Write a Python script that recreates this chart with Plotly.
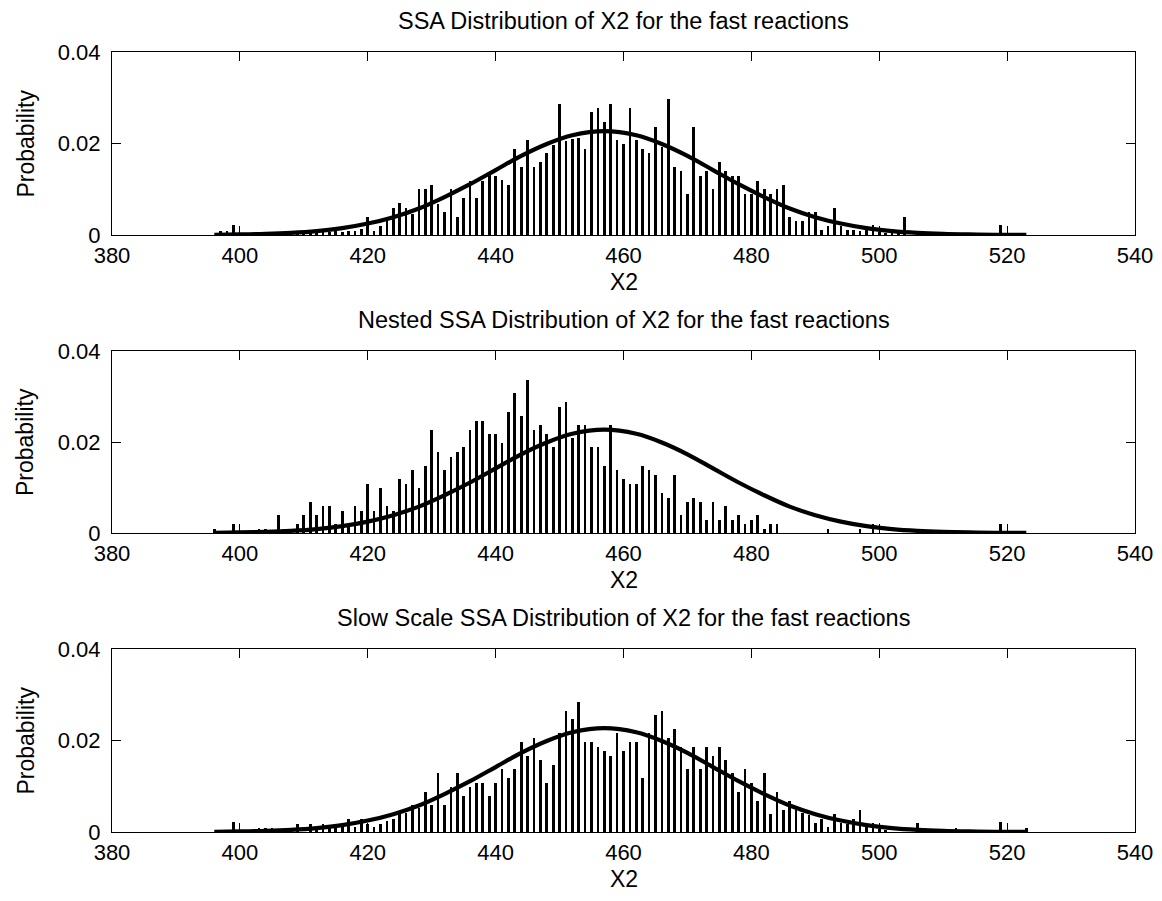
import plotly.graph_objects as go

# X2 copy-number bins (one bar per integer state)
x2_states = list(range(396, 525))

# Empirical probability of each X2 state, SSA run
ssa_prob = [
    0, 0.0008, 0.0008, 0.0022, 0, 0.0003, 0, 0.0003, 0, 0.0003,          # 396-405
    0.0003, 0, 0.0003, 0.0003, 0.0003, 0.0006, 0.0003, 0.0006, 0.0006, 0.0009,  # 406-415
    0.0006, 0.0009, 0.0009, 0.0013, 0.004, 0.0009, 0.002, 0.004, 0.006, 0.0069,  # 416-425
    0.006, 0.0045, 0.010, 0.010, 0.0109, 0.0068, 0.005, 0.010, 0.004, 0.008,     # 426-435
    0.0119, 0.008, 0.0119, 0.0138, 0.0129, 0.012, 0.0109, 0.0189, 0.0149, 0.0208,  # 436-445
    0.0149, 0.0159, 0.0179, 0.0197, 0.0287, 0.0205, 0.0209, 0.0213, 0.0189, 0.0268,  # 446-455
    0.0277, 0.0248, 0.0287, 0.0208, 0.0198, 0.0277, 0.0208, 0.0189, 0.0179, 0.0237,  # 456-465
    0.0193, 0.0297, 0.0149, 0.0139, 0.009, 0.0237, 0.0129, 0.0139, 0.010, 0.0159,    # 466-475
    0.0139, 0.0129, 0.0129, 0.009, 0.009, 0.0119, 0.010, 0.009, 0.010, 0.0109,       # 476-485
    0.004, 0.0031, 0.0031, 0.005, 0.005, 0.0011, 0.002, 0.006, 0.002, 0.0012,        # 486-495
    0.0011, 0.0009, 0.001, 0.0022, 0.0007, 0.0005, 0.0005, 0.0003, 0.004, 0,         # 496-505
    0.0003, 0, 0, 0.0006, 0.0006, 0, 0, 0, 0, 0,                                     # 506-515
    0, 0, 0, 0.0022, 0, 0, 0, 0, 0,                                                  # 516-524
]

# Empirical probability of each X2 state, nested SSA run
nested_prob = [
    0.0009, 0, 0, 0.002, 0, 0, 0, 0.0009, 0.0009, 0,                               # 396-405
    0.0039, 0.0009, 0.0009, 0.0019, 0.0039, 0.0068, 0.0039, 0.0059, 0.0059, 0.0019,  # 406-415
    0.0048, 0.0015, 0.0059, 0.0048, 0.0108, 0.0048, 0.0099, 0.0059, 0.0048, 0.0119,  # 416-425
    0.0108, 0.0138, 0.0099, 0.0148, 0.0227, 0.0178, 0.0139, 0.0168, 0.0178, 0.0188,  # 426-435
    0.0227, 0.0247, 0.0247, 0.0218, 0.0218, 0.0198, 0.0267, 0.0307, 0.0257, 0.0337,  # 436-445
    0.0227, 0.0237, 0.0218, 0.0188, 0.0277, 0.0287, 0.0208, 0.0237, 0.0237, 0.0188,  # 446-455
    0.0188, 0.0148, 0.0237, 0.0139, 0.0119, 0.0108, 0.0108, 0.0148, 0.0139, 0.0128,  # 456-465
    0.0088, 0.0078, 0.0128, 0.0039, 0.0068, 0.0078, 0.0068, 0.0029, 0.0068, 0.0029,  # 466-475
    0.0059, 0.0029, 0.0039, 0.0019, 0.0029, 0.0039, 0.0009, 0.0019, 0.0019, 0,       # 476-485
    0, 0, 0, 0, 0, 0, 0.0009, 0, 0, 0,                                               # 486-495
    0, 0.0009, 0, 0.002, 0, 0, 0, 0, 0, 0,                                           # 496-505
    0, 0, 0, 0, 0, 0, 0, 0, 0, 0,                                                    # 506-515
    0, 0, 0, 0.002, 0, 0, 0, 0, 0,                                                   # 516-524
]

# Empirical probability of each X2 state, slow-scale SSA run
slow_prob = [
    0, 0, 0, 0.0021, 0, 0, 0, 0.0009, 0.0009, 0.0009,                              # 396-405
    0, 0, 0.0009, 0.0018, 0, 0.0018, 0.0006, 0.0018, 0.0008, 0.001,                 # 406-415
    0.0012, 0.0028, 0.0012, 0.0028, 0.0018, 0.0012, 0.0018, 0.0023, 0.0028, 0.0047,  # 416-425
    0.0042, 0.0058, 0.0052, 0.0088, 0.0058, 0.0128, 0.006, 0.0098, 0.0128, 0.0078,   # 426-435
    0.0098, 0.0107, 0.0107, 0.0078, 0.0107, 0.0138, 0.0118, 0.0138, 0.0196, 0.0167,  # 436-445
    0.0206, 0.0157, 0.0107, 0.0147, 0.0216, 0.0265, 0.0246, 0.0285, 0.0196, 0.0196,  # 446-455
    0.0186, 0.0176, 0.0167, 0.0216, 0.0176, 0.0196, 0.0196, 0.0118, 0.0216, 0.0256,  # 456-465
    0.0265, 0.0206, 0.0226, 0.0186, 0.0138, 0.0186, 0.0138, 0.0186, 0.0167, 0.0186,  # 466-475
    0.0157, 0.0128, 0.0088, 0.0138, 0.0107, 0.0068, 0.0128, 0.0039, 0.0088, 0.0049,  # 476-485
    0.0068, 0.0049, 0.0042, 0.0037, 0.002, 0.0028, 0.0012, 0.0039, 0.002, 0.0018,    # 486-495
    0.0028, 0.0049, 0.0012, 0.002, 0.0007, 0.0005, 0, 0, 0, 0,                       # 496-505
    0.002, 0.0009, 0, 0, 0, 0, 0.0009, 0, 0, 0,                                      # 506-515
    0, 0, 0, 0.0021, 0, 0, 0, 0.0009, 0,                                             # 516-524
]

# Reference normal density of X2 (same curve on every panel)
fit_x = [396, 400, 404, 408, 412, 416, 420, 424, 428, 432, 436, 440, 444, 448, 452,
         457, 462, 466, 470, 474, 478, 482, 486, 490, 494, 498, 502, 506, 510, 514,
         518, 523]
fit_pdf = [0.000056, 0.00012, 0.00024, 0.00047, 0.00086, 0.0015, 0.0025, 0.0039,
           0.0058, 0.0083, 0.0111, 0.0142, 0.0173, 0.0199, 0.0218, 0.0227, 0.0218,
           0.0199, 0.0173, 0.0142, 0.0111, 0.0083, 0.0058, 0.0039, 0.0025, 0.0015,
           0.00086, 0.00047, 0.00024, 0.00012, 0.000056, 0.00002]

panel_titles = [
    "SSA Distribution of X2 for the fast reactions",
    "Nested SSA Distribution of X2 for the fast reactions",
    "Slow Scale SSA Distribution of X2 for the fast reactions",
]
panel_data = [ssa_prob, nested_prob, slow_prob]

x_ticks = [380, 400, 420, 440, 460, 480, 500, 520, 540]
y_ticks = [0, 0.02, 0.04]
y_tick_text = ["0", "0.02", "0.04"]

FONT = "Liberation Sans, Arial, Helvetica, sans-serif"
W, H = 1162, 901
M_L, M_R, M_T, M_B = 112, 27, 52, 69
plot_w = W - M_L - M_R
plot_h = H - M_T - M_B

# vertical extents of each axes box, in pixels from the top of the page
boxes_px = [(52, 235), (351, 533), (649, 832)]

fig = go.Figure()
annotations = []
for i, (probs, title) in enumerate(zip(panel_data, panel_titles)):
    n = i + 1
    xa = "x" if n == 1 else f"x{n}"
    ya = "y" if n == 1 else f"y{n}"
    fig.add_trace(go.Bar(
        x=x2_states, y=probs, width=0.42,
        marker=dict(color="black", line=dict(width=0)),
        xaxis=xa, yaxis=ya, showlegend=False, hoverinfo="skip",
    ))
    fig.add_trace(go.Scatter(
        x=fit_x, y=fit_pdf, mode="lines",
        line=dict(color="black", width=4.2, shape="spline", smoothing=1.0),
        xaxis=xa, yaxis=ya, showlegend=False, hoverinfo="skip",
    ))

    top_px, bot_px = boxes_px[i]
    dom = [(H - M_B - bot_px) / plot_h, (H - M_B - top_px) / plot_h]
    axis_common = dict(
        showline=True, linecolor="black", linewidth=1, mirror="ticks",
        ticks="inside", ticklen=9, tickcolor="black", tickwidth=1,
        showgrid=False, zeroline=False, automargin=False,
        tickfont=dict(family=FONT, size=22, color="black"),
    )
    fig.layout[("xaxis" if n == 1 else f"xaxis{n}")] = dict(
        axis_common, domain=[0, 1], anchor=ya, range=[380, 540],
        tickvals=x_ticks, ticktext=[str(t) for t in x_ticks],
        ticklabelstandoff=1,
    )
    fig.layout[("yaxis" if n == 1 else f"yaxis{n}")] = dict(
        axis_common, domain=dom, anchor=xa, range=[0, 0.04],
        tickvals=y_ticks, ticktext=y_tick_text,
        ticklabelstandoff=6,
    )
    # panel title
    annotations.append(dict(
        text=title, xref="paper", yref="paper", x=0.5, y=dom[1],
        xanchor="center", yanchor="middle", yshift=31, showarrow=False,
        font=dict(family=FONT, size=23.5, color="black"),
    ))
    # x-axis label
    annotations.append(dict(
        text="X2", xref="paper", yref="paper", x=0.5, y=dom[0],
        xanchor="center", yanchor="middle", yshift=-47, showarrow=False,
        font=dict(family=FONT, size=23, color="black"),
    ))
    # y-axis label
    annotations.append(dict(
        text="Probability", xref="paper", yref="paper",
        x=(25 - M_L) / plot_w, y=(dom[0] + dom[1]) / 2,
        xanchor="center", yanchor="middle", textangle=-90, showarrow=False,
        font=dict(family=FONT, size=23, color="black"),
    ))

fig.update_layout(
    width=W, height=H,
    margin=dict(l=M_L, r=M_R, t=M_T, b=M_B),
    paper_bgcolor="white", plot_bgcolor="white",
    bargap=0, annotations=annotations,
    font=dict(family=FONT, color="black"),
)

fig.write_html("out.html", config={"displayModeBar": False})
